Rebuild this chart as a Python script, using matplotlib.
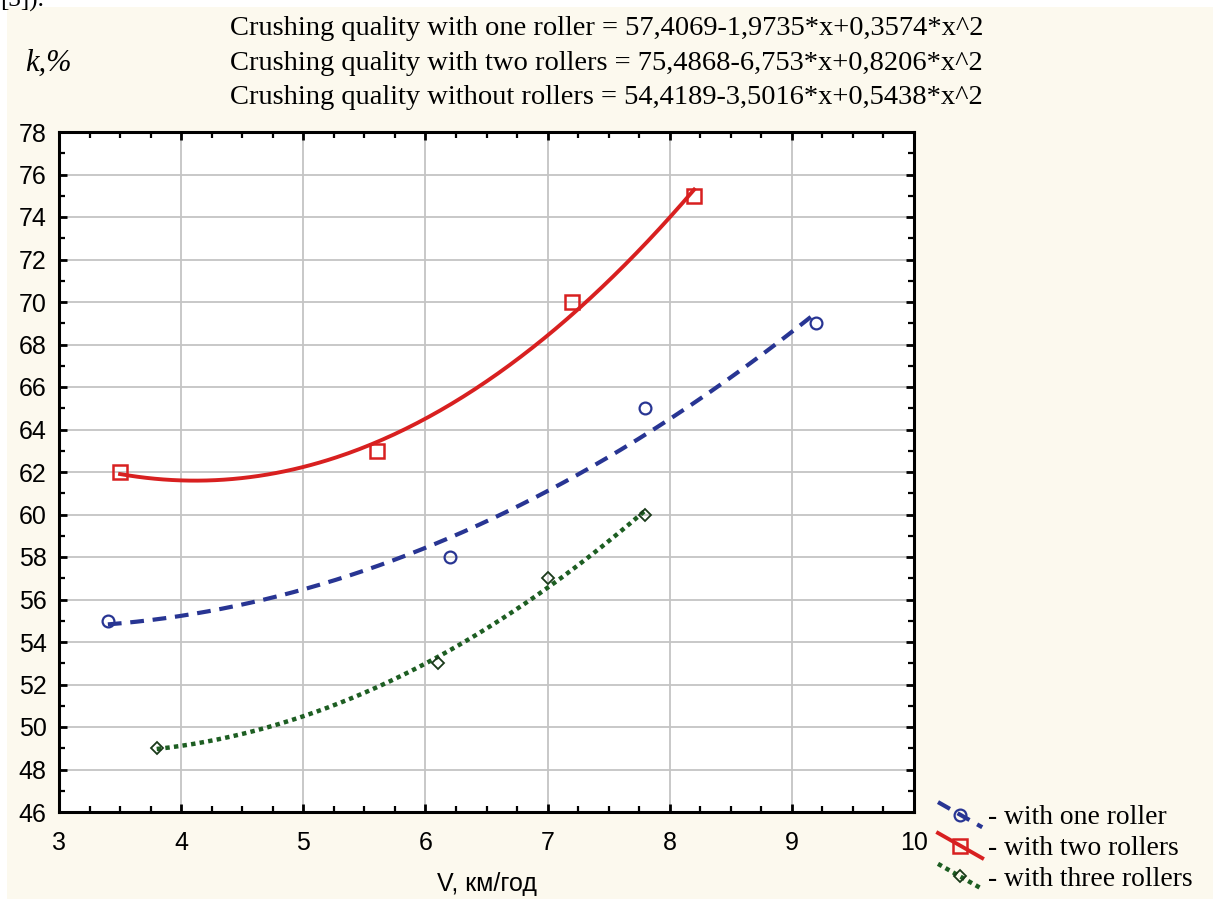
import numpy as np
import matplotlib
matplotlib.use("Agg")
import matplotlib.pyplot as plt
from matplotlib.lines import Line2D
from matplotlib.patches import Rectangle
from matplotlib.legend_handler import HandlerLine2D
from matplotlib.ticker import MultipleLocator

# ---- data ----
v_one = [3.4, 6.2, 7.8, 9.2]
k_one = [55, 58, 65, 69]
v_two = [3.5, 5.6, 7.2, 8.2]
k_two = [62, 63, 70, 75]
v_three = [3.8, 6.1, 7.0, 7.8]
k_three = [49, 53, 57, 60]

coef_one = [57.4069, -1.9735, 0.3574]
coef_two = [75.4868, -6.753, 0.8206]
coef_three = [54.4189, -3.5016, 0.5438]

eq_lines = [
    "Crushing quality with one roller = 57,4069-1,9735*x+0,3574*x^2",
    "Crushing quality with two rollers = 75,4868-6,753*x+0,8206*x^2",
    "Crushing quality without rollers = 54,4189-3,5016*x+0,5438*x^2",
]
legend_labels = ["- with one roller", "- with two rollers", "- with three rollers"]

BG = "#fcf9ee"
BLUE = "#283593"
RED = "#d82020"
GREEN = "#1d5e22"

W, H = 1213, 899
fig = plt.figure(figsize=(W/100, H/100), dpi=100, facecolor="white")
fig.patches.append(Rectangle((7/W, 0), 1, 1 - 7/H, transform=fig.transFigure,
                             facecolor=BG, edgecolor="none", zorder=-10))
ax = fig.add_axes([59/W, 1-812/H, (914-59)/W, (812-132)/H])
ax.set_facecolor("white")


def fit(coef, xs):
    xs = np.asarray(xs)
    return coef[0] + coef[1]*xs + coef[2]*xs**2


xf1 = np.linspace(min(v_one), max(v_one), 200)
xf2 = np.linspace(min(v_two), max(v_two), 200)
xf3 = np.linspace(min(v_three), max(v_three), 200)

ls_blue = (0, (3.3, 2.1))
ls_green = (0, (1, 0.95))
ax.plot(xf1, fit(coef_one, xf1), color=BLUE, lw=3.0, ls=ls_blue, zorder=3)
ax.plot(xf2, fit(coef_two, xf2), color=RED, lw=2.8, ls="-", zorder=3)
ax.plot(xf3, fit(coef_three, xf3), color=GREEN, lw=3.2, ls=ls_green, zorder=3)

mk_one = dict(marker="o", ms=8.5, mfc="none", mec=BLUE, mew=1.6)
mk_two = dict(marker="s", ms=9.5, mfc="none", mec=RED, mew=1.8)
mk_three = dict(marker="D", ms=6.5, mfc="none", mec="#1a3a1a", mew=1.3)
ax.plot(v_one, k_one, ls="none", zorder=4, **mk_one)
ax.plot(v_two, k_two, ls="none", zorder=4, **mk_two)
ax.plot(v_three, k_three, ls="none", zorder=4, **mk_three)

ax.set_xlim(3, 10)
ax.set_ylim(46, 78)
ax.xaxis.set_major_locator(MultipleLocator(1))
ax.xaxis.set_minor_locator(MultipleLocator(0.25))
ax.yaxis.set_major_locator(MultipleLocator(2))
ax.yaxis.set_minor_locator(MultipleLocator(1))
ax.grid(True, which="major", color="#c4c4c4", lw=1.3, zorder=1)
ax.set_axisbelow(True)
for s in ax.spines.values():
    s.set_linewidth(2.2)
    s.set_color("black")
ax.tick_params(which="both", direction="in", top=True, right=True, color="black")
ax.tick_params(which="major", length=6, width=2)
ax.tick_params(which="minor", length=4, width=1.6)
ax.tick_params(axis="both", which="major", labelsize=18)
ax.tick_params(axis="x", which="major", pad=14)
ax.tick_params(axis="y", which="major", pad=9)
for lab in ax.get_xticklabels() + ax.get_yticklabels():
    lab.set_fontfamily("Liberation Sans")
ax.set_xlabel("V, км/год", fontsize=18, family="Liberation Sans", labelpad=12)

# equations
baselines = [35, 70, 104]
for t, b in zip(eq_lines, baselines):
    fig.text(0.5, 1 - b/H, t, ha="center", va="baseline",
             fontsize=20.5, family="Liberation Serif")
fig.text(48/W, 1 - 63/H, "k,%", ha="center", va="center", fontsize=22,
         family="Liberation Serif", style="italic")
fig.text(0.0, 1.0, "[3]).", ha="left", va="center", fontsize=18, family="Liberation Serif")


class DiagHandler(HandlerLine2D):
    def create_artists(self, legend, orig_handle, xdescent, ydescent, width,
                       height, fontsize, trans):
        xd = np.array([-xdescent, -xdescent + width])
        yd = np.array([height * 1.15, -height * 0.15]) - ydescent
        line = Line2D(xd, yd)
        self.update_prop(line, orig_handle, legend)
        line.set_marker("None")
        line.set_transform(trans)
        mk = Line2D([xd.mean()], [yd.mean()])
        self.update_prop(mk, orig_handle, legend)
        mk.set_linestyle("None")
        mk.set_transform(trans)
        return [line, mk]


h1 = Line2D([], [], color=BLUE, lw=3.0, ls=ls_blue, **mk_one)
h2 = Line2D([], [], color=RED, lw=2.8, ls="-", **mk_two)
h3 = Line2D([], [], color=GREEN, lw=3.2, ls=ls_green, **mk_three)
leg = fig.legend([h1, h2, h3], legend_labels, loc="upper left",
                 bbox_to_anchor=(938/W, 1 - 805/H), frameon=False,
                 prop={"family": "Liberation Serif", "size": 19.9},
                 handler_map={Line2D: DiagHandler()}, handlelength=1.6,
                 handletextpad=0.2, labelspacing=0.2, borderpad=0,
                 borderaxespad=0)

fig.savefig("out.png", dpi=100, facecolor="white")
